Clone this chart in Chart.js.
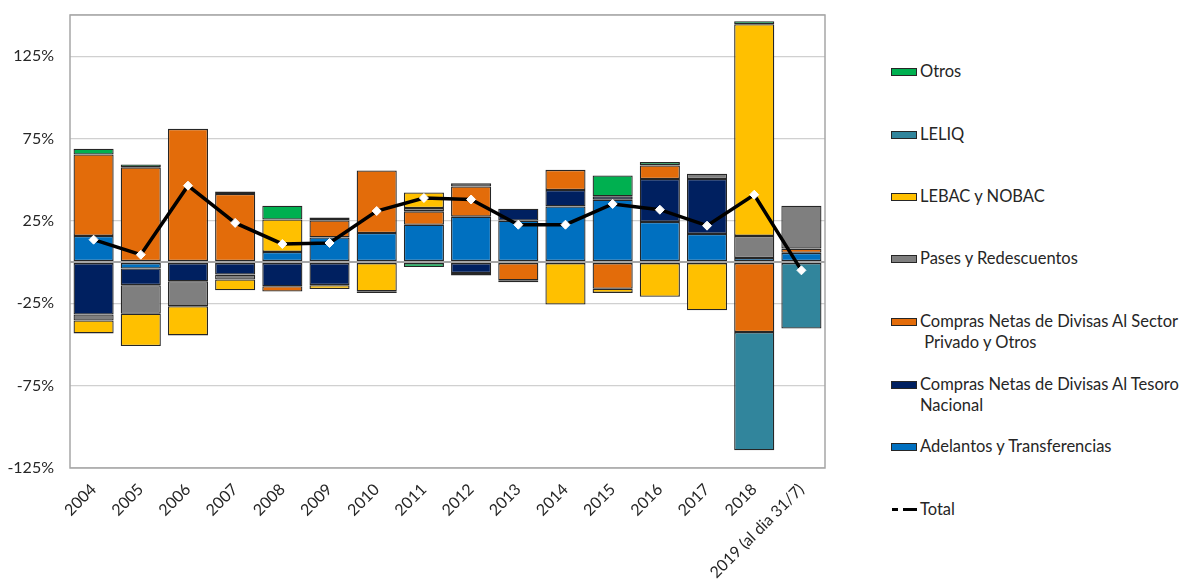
<!DOCTYPE html>
<html>
<head>
<meta charset="utf-8">
<script src="https://cdn.jsdelivr.net/npm/chart.js@4"></script>
<style>
  html, body { margin: 0; padding: 0; background: #fff; }
  #wrap { position: relative; width: 1182px; height: 583px; }
  #box { position: absolute; left: 0; top: 0; width: 840px; height: 583px; }
  #legend { position: absolute; left: 891px; top: 0; font-family: Lato, sans-serif; font-size: 16.5px; color: #262626; }
  .item { position: absolute; left: 0; white-space: pre; line-height: 21px; }
  .sw { position: absolute; left: 0; top: 7px; width: 26px; height: 8px; border: 1px solid #262626; box-sizing: border-box; }
  .lbl { position: absolute; left: 29px; top: 0; }
  .dash { position: absolute; top: 9px; height: 3px; background: #000; }
</style>
</head>
<body>
<div id="wrap">
  <div id="box"><canvas id="chart"></canvas></div>
  <div id="legend"></div>
</div>
<script>
const years = ["2004", "2005", "2006", "2007", "2008", "2009", "2010", "2011", "2012",
    "2013", "2014", "2015", "2016", "2017", "2018", "2019 (al dia 31/7)"];

// % contributions
const adelantos = [15.9, -3.9, 0, 0, 6.2, 15, 17.7, 22.7, 27.6, 25.2, 33.8, 37.9, 24.4, 17.1, 2.5, 5.6];
const comprasTesoro = [-31.8, -10.1, -11.6, -7.6, -14.7, -14, 0, 0, -6.6, 7.2, 10, 2, 26, 33.3, 0, 0];
const comprasPrivado = [49.4, 57.5, 80.9, 41.3, -3.2, 10.3, 37.9, 8.1, 18.3, -11, 12.2, -16.2, 8.3, 0, -42.5, 2.6];
const pases = [-3.7, -17.4, -15.2, -3, 0, 0, 0, 2, 1.9, 0, 0, 0, 0, 3.2, 13.4, 26];
const lebac = [-7.8, -19.6, -17.7, -6.5, 19.7, -2.3, -17.7, 9.5, -1.6, -1.2, -25.8, -2.5, -21.1, -29.2, 128.5, 0];
const leliq = [0, 0, 0, 0, 0, 0, 0, 0, 0, 0, 0, 0, 0, 0, -71.7, -40.3];
const otros = [3.5, 1.8, 0, 1.6, 8.3, 1.7, -1, -3, 0, 0, 0, 12.7, 2, 0, 1.8, 0];
const total = [13.6, 4.5, 46.4, 23.8, 11, 11.6, 31, 38.9, 38, 22.7, 22.7, 35.3, 31.8, 22.1, 40.9, -5];

const yTicks = [-125, -75, -25, 0, 25, 75, 125, 150];

const series = [
    { label: ["Adelantos y Transferencias"], data: adelantos, color: "#0070C0" },
    { label: ["Compras Netas de Divisas Al Tesoro", "Nacional"], data: comprasTesoro, color: "#002060" },
    { label: ["Compras Netas de Divisas Al Sector", " Privado y Otros"], data: comprasPrivado, color: "#E36C0A" },
    { label: ["Pases y Redescuentos"], data: pases, color: "#7F7F7F" },
    { label: ["LEBAC y NOBAC"], data: lebac, color: "#FFC000" },
    { label: ["LELIQ"], data: leliq, color: "#31859C" },
    { label: ["Otros"], data: otros, color: "#00B050" },
];

const FONT = "Lato, sans-serif";

const datasets = series.map(s => ({
    type: "bar",
    label: s.label.join(" "),
    data: s.data,
    backgroundColor: s.color,
    borderColor: "#262626",
    borderWidth: 1.3,
    borderSkipped: false,
    barPercentage: 0.85,
    categoryPercentage: 1,
    stack: "bars",
    order: 1,
}));

datasets.push({
    type: "line",
    label: "Total",
    data: total,
    borderColor: "#000",
    borderWidth: 3.5,
    pointStyle: "rectRot",
    pointRadius: 4.5,
    pointBackgroundColor: "#fff",
    pointBorderColor: "#fff",
    pointBorderWidth: 1,
    stack: "total",
    order: 0,
    tension: 0,
});

// plot frame
const frame = {
    id: "frame",
    afterDraw(chart) {
        const a = chart.chartArea, ctx = chart.ctx;
        ctx.save();
        ctx.strokeStyle = "#A6A6A6";
        ctx.lineWidth = 1.5;
        ctx.strokeRect(a.left, a.top, a.right - a.left, a.bottom - a.top);
        ctx.restore();
    },
};

new Chart(document.getElementById("chart"), {
    data: { labels: years, datasets: datasets },
    plugins: [frame],
    options: {
        responsive: true,
        maintainAspectRatio: false,
        animation: false,
        layout: { padding: { top: 15, right: 15, left: 0, bottom: 0 } },
        plugins: { legend: { display: false }, tooltip: { enabled: false } },
        scales: {
            x: {
                stacked: true,
                grid: { display: false, drawTicks: false },
                border: { display: false },
                ticks: {
                    autoSkip: false, minRotation: 45, maxRotation: 45, padding: 12,
                    color: "#262626", font: { family: FONT, size: 16 },
                },
                afterFit(s) { s.height = 115; },
            },
            y: {
                stacked: true,
                min: -125,
                max: 150,
                afterBuildTicks(s) { s.ticks = yTicks.map(v => ({ value: v })); },
                grid: {
                    drawTicks: true,
                    tickLength: 16,
                    tickColor: "rgba(0,0,0,0)",
                    lineWidth: c => (c.tick && c.tick.value === 0 ? 2 : 1.2),
                    color: c => (c.tick && c.tick.value === 0 ? "#A6A6A6" : "#D0D0D0"),
                },
                border: { display: false },
                ticks: {
                    padding: 0,
                    color: "#262626",
                    font: { family: FONT, size: 16 },
                    callback: v => (v === 0 || v === 150 ? "" : v + "%"),
                },
                afterFit(s) { s.width = 70; },
            },
        },
    },
});

// legend (top to bottom: bar series reversed, then Total)
const legendTops = [61, 124, 186, 248, 311, 374, 436, 499];
const legend = document.getElementById("legend");
series.slice().reverse().forEach((s, i) => {
    const d = document.createElement("div");
    d.className = "item";
    d.style.top = legendTops[i] + "px";
    d.innerHTML = `<div class="sw" style="background:${s.color}"></div><div class="lbl">${s.label.join("\n")}</div>`;
    legend.appendChild(d);
});
const t = document.createElement("div");
t.className = "item";
t.style.top = legendTops[7] + "px";
t.innerHTML = `<div class="dash" style="left:1px;width:6px"></div><div class="dash" style="left:12px;width:14px"></div><div class="lbl">Total</div>`;
legend.appendChild(t);
</script>
</body>
</html>
